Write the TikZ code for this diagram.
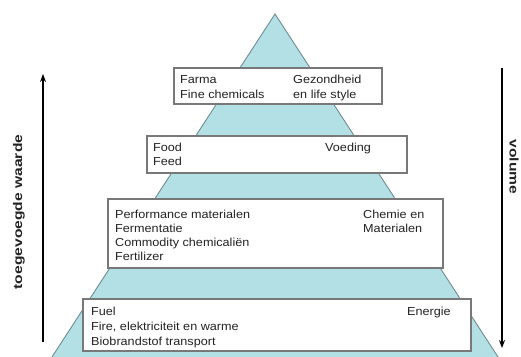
\documentclass[tikz,border=0pt]{standalone}
\usepackage{fontspec}
\setmainfont{Liberation Sans}[FakeStretch=1.09]
\newfontfamily\sidefont{Liberation Sans}[FakeStretch=1.25]
\usetikzlibrary{arrows.meta}
\definecolor{pyr}{RGB}{178,224,228}
\definecolor{pyrline}{RGB}{110,140,145}
\definecolor{boxline}{RGB}{120,120,120}
\definecolor{txt}{RGB}{35,35,35}
\tikzset{
  tier/.style={draw=boxline, line width=1.1pt, fill=white},
  lbl/.style={anchor=base west, inner sep=0pt, text=txt, font=\fontsize{11.6}{14}\selectfont},
  axis/.style={line width=1.8pt, -{Stealth[length=8pt,width=6pt]}},
  sidelbl/.style={inner sep=0pt, text=txt, font=\sidefont\bfseries\fontsize{12.5}{14}\selectfont}
}
\begin{document}
\begin{tikzpicture}[x=1pt,y=-1pt]
\useasboundingbox (0,0) rectangle (521,356);
\clip (0,0) rectangle (521,356);
% pyramid
\coordinate (apex) at (275,14);
\coordinate (bl) at (37,380);
\coordinate (br) at (513,380);
\draw[fill=pyr, draw=pyrline, line width=0.9pt] (apex) -- (br) -- (bl) -- cycle;
% tiers
\draw[tier] (174,68) rectangle (382,104);
\draw[tier] (147,136) rectangle (407,173);
\draw[tier] (108,199) rectangle (443,268);
\draw[tier] (83,299) rectangle (471,351);
% tier 1 text
\node[lbl] (t1a) at (180,83) {Farma};
\node[lbl] (t1b) at (180,98) {Fine chemicals};
\node[lbl] (t1c) at (293,83) {Gezondheid};
\node[lbl] (t1d) at (293,98) {en life style};
% tier 2 text
\node[lbl] (t2a) at (153,151) {Food};
\node[lbl] (t2b) at (153,165) {Feed};
\node[lbl] (t2c) at (325,151) {Voeding};
% tier 3 text
\node[lbl] (t3a) at (115,218) {Performance materialen};
\node[lbl] (t3b) at (115,232) {Fermentatie};
\node[lbl] (t3c) at (115,246) {Commodity chemicaliën};
\node[lbl] (t3d) at (115,260) {Fertilizer};
\node[lbl] (t3e) at (363,218) {Chemie en};
\node[lbl] (t3f) at (363,232) {Materialen};
% tier 4 text
\node[lbl] (t4a) at (91,315) {Fuel};
\node[lbl] (t4b) at (91,330) {Fire, elektriciteit en warme};
\node[lbl] (t4c) at (91,345) {Biobrandstof transport};
\node[lbl] (t4d) at (407,315) {Energie};
% axes
\coordinate (la0) at (43,342);
\coordinate (la1) at (43,74);
\draw[axis] (la0) -- (la1);
\node[sidelbl, rotate=90] (lv) at (19,212) {toegevoegde waarde};
\coordinate (ra0) at (502,68);
\coordinate (ra1) at (502,348);
\draw[axis] (ra0) -- (ra1);
\node[sidelbl, rotate=-90] (rv) at (514,167) {volume};
\end{tikzpicture}
\end{document}
